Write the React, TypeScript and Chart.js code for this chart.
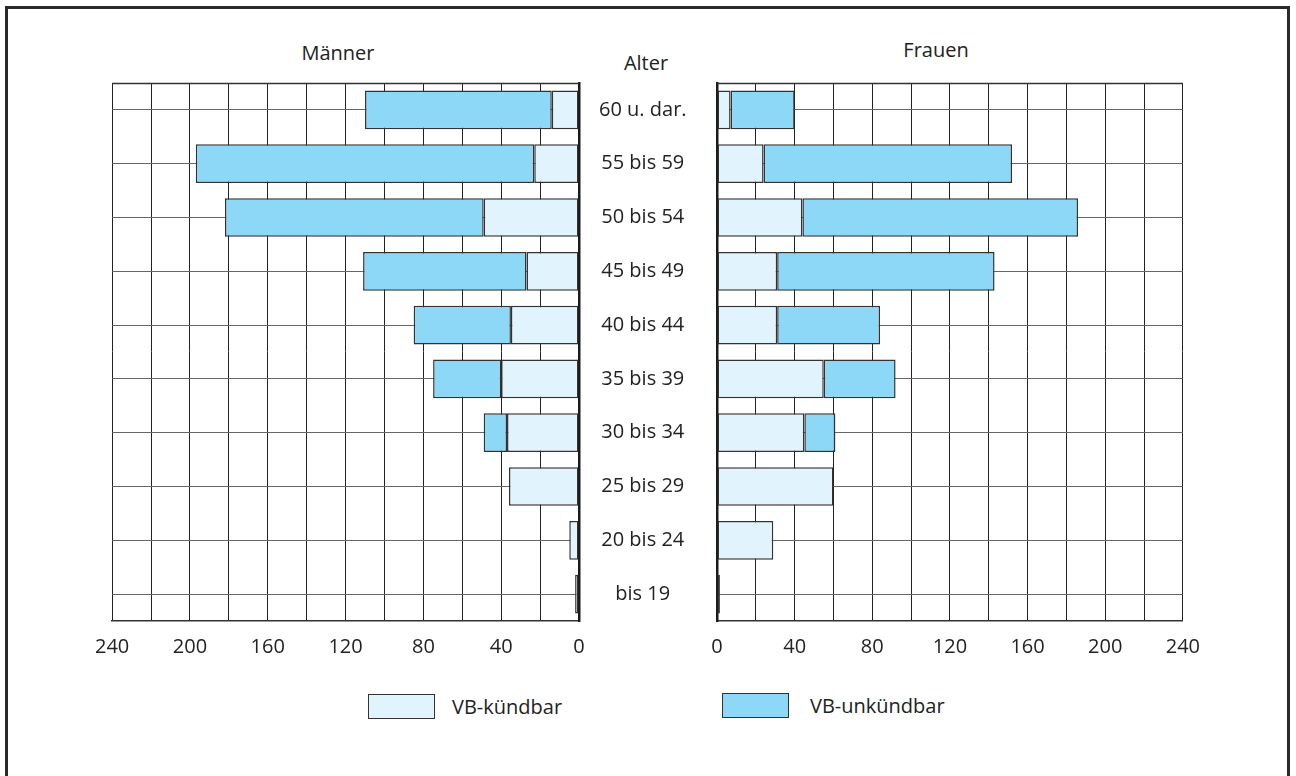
import React, { useEffect, useRef } from 'react';
import { Chart, registerables } from 'chart.js';

Chart.register(...registerables);

const ageGroups = ['60 u. dar.', '55 bis 59', '50 bis 54', '45 bis 49', '40 bis 44', '35 bis 39', '30 bis 34', '25 bis 29', '20 bis 24', 'bis 19'];
const menKuendbar = [14, 23, 49, 27, 35, 40, 37, 36, 5, 2];
const menUnkuendbar = [96, 174, 133, 84, 50, 35, 12, null, null, null];
const womenKuendbar = [7, 24, 44, 31, 31, 55, 45, 60, 29, 1.5];
const womenUnkuendbar = [33, 128, 142, 112, 53, 37, 16, null, null, null];
const xTicks = [0, 40, 80, 120, 160, 200, 240];
const seriesNames = ['VB-kündbar', 'VB-unkündbar'];

const LIGHT = '#E1F3FC';
const DARK = '#8DD8F7';
const EDGE = '#333333';
const FONT = 'Open Sans';

const frameTop = {
  id: 'frameTop',
  beforeDatasetsDraw(chart: any) {
    const { ctx, chartArea } = chart;
    ctx.save();
    ctx.strokeStyle = '#333';
    ctx.lineWidth = 1.5;
    ctx.beginPath();
    ctx.moveTo(chartArea.left, chartArea.top + 0.5);
    ctx.lineTo(chartArea.right, chartArea.top + 0.5);
    ctx.stroke();
    ctx.restore();
  },
};

function makeConfig(side: 'left' | 'right'): any {
  const isLeft = side === 'left';
  const k = isLeft ? menKuendbar : womenKuendbar;
  const u = isLeft ? menUnkuendbar : womenUnkuendbar;
  return {
    type: 'bar',
    data: {
      labels: ageGroups,
      datasets: [
        { label: seriesNames[0], data: k, backgroundColor: LIGHT, borderColor: EDGE, borderWidth: 1.5, borderSkipped: false, barPercentage: 0.72, categoryPercentage: 1 },
        { label: seriesNames[1], data: u, backgroundColor: DARK, borderColor: EDGE, borderWidth: 1.5, borderSkipped: false, barPercentage: 0.72, categoryPercentage: 1 },
      ],
    },
    options: {
      indexAxis: 'y',
      animation: false,
      responsive: false,
      maintainAspectRatio: false,
      layout: { padding: isLeft ? { left: 30, top: 10, right: 0, bottom: 0 } : { left: 0, top: 10, right: 30, bottom: 0 } },
      plugins: { legend: { display: false }, tooltip: { enabled: false } },
      scales: {
        x: {
          type: 'linear',
          reverse: isLeft,
          stacked: true,
          min: 0,
          max: 240,
          ticks: {
            stepSize: 20,
            autoSkip: false,
            maxRotation: 0,
            padding: 14,
            color: '#222',
            font: { family: FONT, size: 20 },
            callback: (v: number) => (xTicks.includes(v) ? String(v) : ''),
          },
          grid: { color: '#222', lineWidth: 1, drawTicks: false },
          border: { display: true, color: '#333', width: 1.5 },
          afterFit: (s: any) => { s.height = 40; },
        },
        y: {
          type: 'category',
          position: isLeft ? 'right' : 'left',
          stacked: true,
          offset: true,
          grid: { offset: false, color: '#666', lineWidth: 1, drawTicks: false },
          border: { display: true, color: '#1a1a1a', width: 2.5 },
          ticks: isLeft
            ? { display: true, crossAlign: 'center', padding: 20, color: '#222', font: { family: FONT, size: 20 } }
            : { display: false },
          afterFit: (s: any) => {
            s.width = isLeft ? 130 : 20;
            s.paddingTop = 0;
            s.paddingBottom = 0;
          },
        },
      },
    },
    plugins: [frameTop],
  };
}

function Panel({ side, style }: { side: 'left' | 'right'; style: React.CSSProperties }) {
  const ref = useRef<HTMLCanvasElement>(null);
  useEffect(() => {
    if (!ref.current) return;
    const chart = new Chart(ref.current, makeConfig(side));
    return () => chart.destroy();
  }, [side]);
  const w = style.width as number;
  const h = style.height as number;
  return <canvas ref={ref} width={w} height={h} style={{ position: 'absolute', ...style }} />;
}

const textBase: React.CSSProperties = {
  position: 'absolute',
  fontFamily: FONT,
  fontSize: 20,
  lineHeight: '24px',
  color: '#222',
  whiteSpace: 'nowrap',
};

export default function App() {
  return (
    <div style={{ position: 'fixed', left: 0, top: 0, width: 1296, height: 776, overflow: 'hidden', background: '#fff' }}>
      <div style={{ position: 'absolute', left: 5, top: 6, width: 1285, height: 800, border: '3px solid #2a2a2a', boxSizing: 'border-box' }} />
      <div style={{ ...textBase, left: 238, width: 200, top: 41, textAlign: 'center' }}>Männer</div>
      <div style={{ ...textBase, left: 546, width: 200, top: 51, textAlign: 'center' }}>Alter</div>
      <div style={{ ...textBase, left: 836, width: 200, top: 38, textAlign: 'center' }}>Frauen</div>
      <Panel side="left" style={{ left: 81, top: 73, width: 628, height: 588 }} />
      <Panel side="right" style={{ left: 697, top: 73, width: 517, height: 588 }} />
      <div style={{ position: 'absolute', left: 368, top: 694, width: 67, height: 25, background: LIGHT, border: '1.5px solid #333', boxSizing: 'border-box' }} />
      <div style={{ ...textBase, left: 452, top: 695 }}>{seriesNames[0]}</div>
      <div style={{ position: 'absolute', left: 722, top: 693, width: 67, height: 25, background: DARK, border: '1.5px solid #333', boxSizing: 'border-box' }} />
      <div style={{ ...textBase, left: 810, top: 694 }}>{seriesNames[1]}</div>
    </div>
  );
}
